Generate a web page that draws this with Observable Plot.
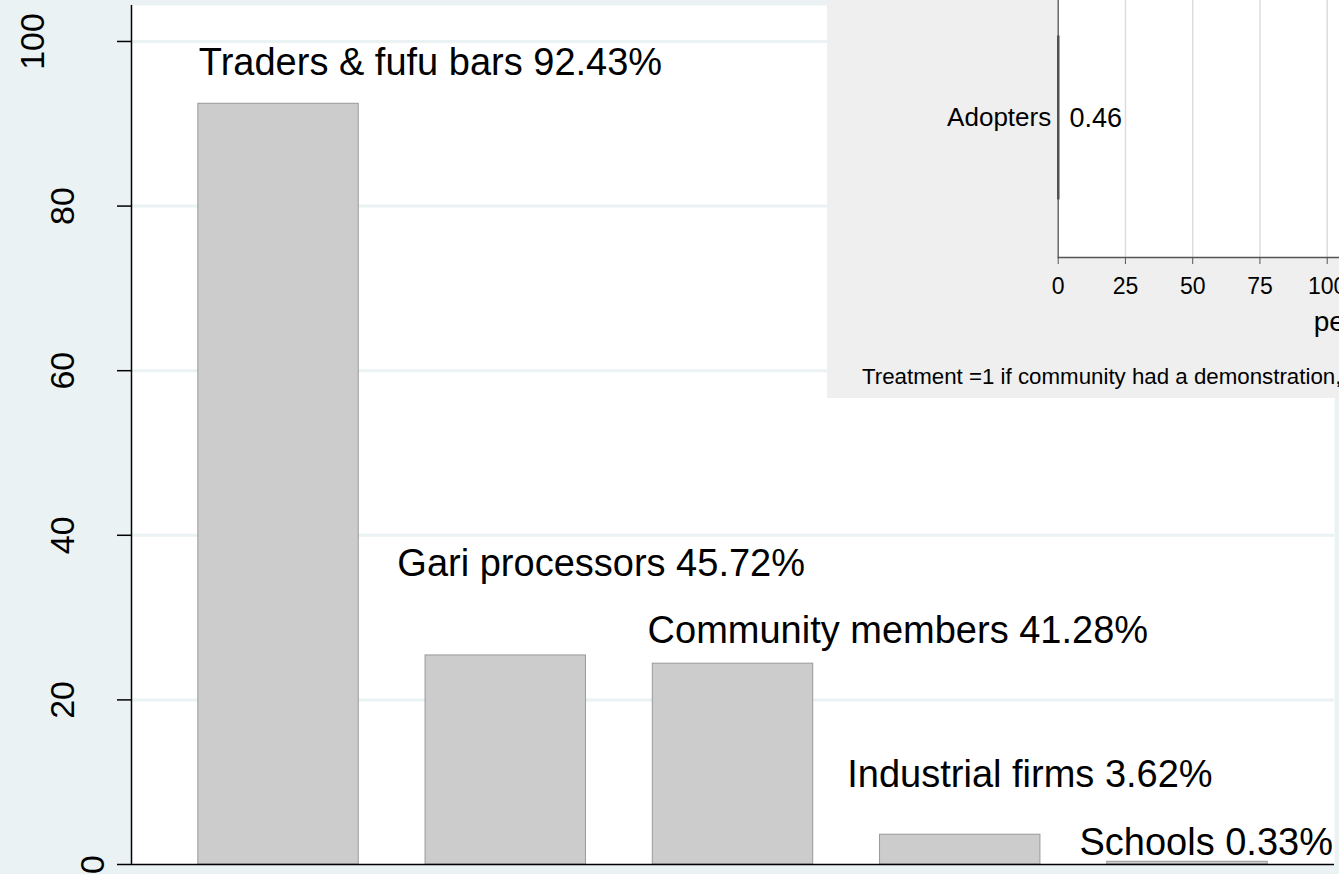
<!DOCTYPE html>
<html><head><meta charset="utf-8">
<script src="https://cdn.jsdelivr.net/npm/d3@7"></script>
<script src="https://cdn.jsdelivr.net/npm/@observablehq/plot@0.6"></script>
<style>
html,body{margin:0;padding:0;background:#eaf2f3;overflow:hidden;width:1339px;height:874px;}
#main{position:absolute;left:0;top:0;}
#main svg{max-width:none !important;}
#inset{position:absolute;left:827px;top:0;width:512px;height:398px;overflow:hidden;background:#efefef;}
#insetPlot svg{position:absolute;left:0;top:-21px;max-width:none !important;width:900px !important;height:400px !important;}
#caption{position:absolute;left:35px;top:366px;font-size:22.3px;line-height:22.3px;font-family:"Liberation Sans",Arial,sans-serif;white-space:nowrap;color:#000;}
</style></head><body>
<div id="main"></div>
<div id="inset"><div id="insetPlot"></div><div id="caption"></div></div>
<script>
// ---- main chart data ----
const categories = ["Traders & fufu bars", "Gari processors", "Community members", "Industrial firms", "Schools"];
const barValues = [92.43, 25.4, 24.4, 3.62, 0.33];
const labelTexts = ["Traders & fufu bars 92.43%", "Gari processors 45.72%", "Community members 41.28%", "Industrial firms 3.62%", "Schools 0.33%"];
// annotation coordinates (Stata text(): y in data units, x on the 0-100 categorical axis)
const labelX = [5.6, 22.1, 42.9, 59.5, 78.8];
const labelY = [97.4, 36.5, 28.4, 10.9, 2.6];
const yTicks = [0, 20, 40, 60, 80, 100];

// ---- inset chart data ----
const insetCategory = ["Adopters"];
const insetValues = [0.46];
const insetTicks = [0, 25, 50, 75, 100];
const insetTitle = "percent";
const insetNote = "Treatment =1 if community had a demonstration,";

const FONT = "Liberation Sans, Arial, sans-serif";

// bars on Stata's 0-100 categorical axis (equal gaps, gap = 5/12 of bar width)
const n = categories.length;
const w = 100 / (n + (n + 1) * 5 / 12);
const g = w * 5 / 12;
const bars = categories.map((c, i) => ({c, v: barValues[i], x1: g + i * (w + g), x2: g + i * (w + g) + w}));
const labels = labelTexts.map((t, i) => ({t, x: labelX[i], y: labelY[i]}));

const tickGroups = [1, 2, 3].map(k => yTicks.filter(t => String(t).length === k));

const main = Plot.plot({
  width: 1339, height: 874,
  marginLeft: 131, marginRight: 5, marginTop: 5, marginBottom: 10,
  style: {background: "transparent", fontFamily: FONT, color: "#000"},
  x: {domain: [0, 100], axis: null},
  y: {domain: [0, 104.37], axis: null},
  marks: [
    Plot.frame({fill: "white", stroke: "none"}),
    Plot.gridY(yTicks.filter(t => t > 0), {stroke: "#eaf2f3", strokeOpacity: 1, strokeWidth: 3}),
    Plot.rect(bars, {x1: "x1", x2: "x2", y1: () => 0, y2: "v", fill: "#cccccc", stroke: "#999999", strokeWidth: 1}),
    Plot.ruleX([0], {stroke: "#000", strokeWidth: 1.5}),
    Plot.ruleY([0], {stroke: "#000", strokeWidth: 1.5}),
    Plot.axisY({ticks: yTicks, tickSize: 14, tickFormat: () => "", stroke: "#000", strokeWidth: 1.5, label: null}),
    ...tickGroups.map((ticks, k) => Plot.axisY({ticks, tickSize: 0, tickPadding: 28 + 30 * k, tickRotate: -90, fontSize: 34, fill: "#000", label: null})),
    Plot.text(labels, {x: "x", y: "y", text: "t", textAnchor: "start", lineAnchor: "middle", fontSize: 38, fill: "#000"})
  ]
});
document.getElementById("main").append(main);

// ---- inset ----
const insetData = insetCategory.map((c, i) => ({c, v: insetValues[i]}));
const inset = Plot.plot({
  width: 900, height: 400,
  marginLeft: 230.7, marginRight: 64.7, marginTop: 0, marginBottom: 122,
  style: {background: "transparent", fontFamily: FONT, color: "#000", overflow: "visible"},
  x: {domain: [0, 100], range: [230.7, 499.7], axis: null},
  y: {domain: insetCategory, padding: 0.258, axis: null},
  marks: [
    Plot.frame({fill: "white", stroke: "none"}),
    Plot.gridX(insetTicks.filter(t => t > 0), {stroke: "#dcdcdc", strokeOpacity: 1, strokeWidth: 1.5}),
    Plot.barX(insetData, {x: "v", y: "c", fill: "#333", stroke: "#333", strokeWidth: 1}),
    Plot.ruleX([0], {stroke: "#555", strokeWidth: 1.3}),
    Plot.frame({anchor: "bottom", stroke: "#555", strokeWidth: 1.3}),
    Plot.axisX({ticks: insetTicks, tickSize: 7, tickPadding: 13, fontSize: 23, stroke: "#555", fill: "#000", label: null}),
    Plot.axisY({tickSize: 0, tickPadding: 7, fontSize: 26, fill: "#000", label: null}),
    Plot.text(insetData, {x: "v", y: "c", text: d => String(d.v), dx: 10, textAnchor: "start", fontSize: 27, fill: "#000"}),
    Plot.text([insetTitle], {frameAnchor: "bottom", dy: 54, lineAnchor: "top", fontSize: 28, fill: "#000"})
  ]
});
document.getElementById("insetPlot").append(inset);
document.getElementById("caption").textContent = insetNote;
</script>
</body></html>
